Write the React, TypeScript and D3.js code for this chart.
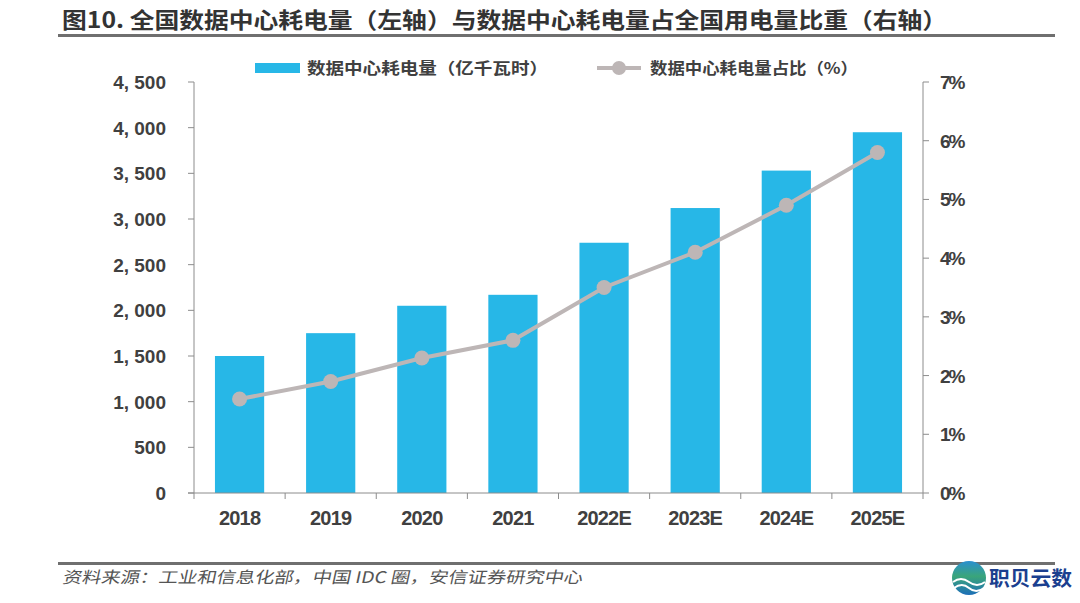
import React from "react";
import * as d3 from "d3";

const categories = ["2018", "2019", "2020", "2021", "2022E", "2023E", "2024E", "2025E"];
const consumption = [1500, 1750, 2050, 2170, 2740, 3120, 3530, 3950];
const share = [1.6, 1.9, 2.3, 2.6, 3.5, 4.1, 4.9, 5.8];
const leftTicks = [0, 500, 1000, 1500, 2000, 2500, 3000, 3500, 4000, 4500];
const rightTicks = [0, 1, 2, 3, 4, 5, 6, 7];

const W = 1080;
const H = 603;
const x0 = 194;
const x1 = 923;
const yTop = 82;
const yBot = 493;
const BAR = "#27B7E7";
const LINE = "#BDB6B6";
const AXIS = "#8c8c8c";
const TXT = "#404040";
const NUM_FONT = "'Liberation Sans', Arial, sans-serif";
const CJK = "'Noto Sans CJK SC', sans-serif";

export default function App() {
  const x = d3.scaleBand<string>().domain(categories).range([x0, x1]).paddingInner(0.46).paddingOuter(0.23);
  const band = d3.scaleBand<string>().domain(categories).range([x0, x1]);
  const yL = d3.scaleLinear().domain([0, 4500]).range([yBot, yTop]);
  const yR = d3.scaleLinear().domain([0, 7]).range([yBot, yTop]);
  const line = d3
    .line<number>()
    .x((_, i) => (band(categories[i]) as number) + band.bandwidth() / 2)
    .y((d) => yR(d));
  const fmt = d3.format(",");

  return (
    <svg width={W} height={H} style={{ display: "block", position: "absolute", left: 0, top: 0, background: "#fff" }}>
      <rect width={W} height={H} fill="#fff" />
      {/* Title */}
      <text x={62} y={28} fontFamily={CJK} fontWeight={700} fontSize={22} fill="#333" textLength={885} lengthAdjust="spacingAndGlyphs">
        图10. 全国数据中心耗电量（左轴）与数据中心耗电量占全国用电量比重（右轴）
      </text>
      <line x1={58} x2={1055} y1={35.5} y2={35.5} stroke="#6f6f6f" strokeWidth={3} />

      {/* Legend */}
      <rect x={255} y={63} width={45} height={10} fill={BAR} />
      <text x={307} y={74} fontFamily={CJK} fontWeight={700} fontSize={16} fill={TXT} textLength={241} lengthAdjust="spacingAndGlyphs">
        数据中心耗电量（亿千瓦时）
      </text>
      <line x1={597} x2={641} y1={68} y2={68} stroke={LINE} strokeWidth={4} />
      <circle cx={619} cy={68} r={7} fill={LINE} />
      <text x={650} y={74} fontFamily={CJK} fontWeight={700} fontSize={16} fill={TXT} textLength={208} lengthAdjust="spacingAndGlyphs">
        数据中心耗电量占比（%）
      </text>

      {/* Bars */}
      {consumption.map((v, i) => (
        <rect
          key={categories[i]}
          x={x(categories[i]) as number}
          y={yL(v)}
          width={x.bandwidth()}
          height={yBot - yL(v)}
          fill={BAR}
        />
      ))}

      {/* Left axis */}
      <line x1={x0} x2={x0} y1={yTop} y2={yBot} stroke={AXIS} strokeWidth={1} />
      {leftTicks.map((t) => (
        <g key={t}>
          <line x1={x0 - 6} x2={x0} y1={yL(t)} y2={yL(t)} stroke={AXIS} />
          <text x={166} y={yL(t) + 7} textAnchor="end" fontFamily={NUM_FONT} fontWeight={700} fontSize={19} fill={TXT}>
            {fmt(t).replace(",", ", ")}
          </text>
        </g>
      ))}

      {/* Right axis */}
      <line x1={x1} x2={x1} y1={yTop} y2={yBot} stroke={AXIS} strokeWidth={1} />
      {rightTicks.map((t) => (
        <g key={t}>
          <line x1={x1} x2={x1 + 6} y1={yR(t)} y2={yR(t)} stroke={AXIS} />
          <text x={940} y={yR(t) + 7} textAnchor="start" fontFamily={NUM_FONT} fontWeight={700} fontSize={19} fill={TXT} letterSpacing={-2}>
            {t + "%"}
          </text>
        </g>
      ))}

      {/* X axis */}
      <line x1={x0 - 6} x2={x1} y1={yBot} y2={yBot} stroke={AXIS} />
      {categories.map((c, i) => (
        <g key={c}>
          <line x1={band(c) as number} x2={band(c) as number} y1={yBot} y2={yBot + 6} stroke={AXIS} />
          {i === categories.length - 1 && <line x1={x1} x2={x1} y1={yBot} y2={yBot + 6} stroke={AXIS} />}
          <text
            x={(band(c) as number) + band.bandwidth() / 2}
            y={525}
            textAnchor="middle"
            fontFamily={NUM_FONT}
            fontWeight={700}
            fontSize={20}
            fill={TXT}
            letterSpacing={-0.8}
          >
            {c}
          </text>
        </g>
      ))}

      {/* Line series */}
      <path d={line(share) || ""} fill="none" stroke={LINE} strokeWidth={4} />
      {share.map((v, i) => (
        <circle
          key={categories[i]}
          cx={(band(categories[i]) as number) + band.bandwidth() / 2}
          cy={yR(v)}
          r={7.5}
          fill={LINE}
        />
      ))}

      {/* Footer */}
      <line x1={58} x2={1055} y1={563.5} y2={563.5} stroke="#6f6f6f" strokeWidth={3} />
      <text x={62} y={583} fontFamily={CJK} fontSize={16} fill="#555" textLength={520} lengthAdjust="spacingAndGlyphs" transform="translate(124,0) skewX(-12)">
        资料来源：工业和信息化部，中国 IDC 圈，安信证券研究中心
      </text>

      {/* Logo */}
      <defs>
        <linearGradient id="lg" x1="0" y1="0" x2="0" y2="1">
          <stop offset="0" stopColor="#2a8fd0" />
          <stop offset="0.45" stopColor="#3aa57a" />
          <stop offset="1" stopColor="#1d6fb8" />
        </linearGradient>
      </defs>
      <circle cx={969} cy={578} r={17} fill="url(#lg)" />
      <path d="M953,582 q8,-6 16,0 t16,0" stroke="#fff" strokeWidth={2} fill="none" />
      <path d="M954,588 q8,-6 15,0 t15,0" stroke="#fff" strokeWidth={2} fill="none" />
      <text x={989} y={586} fontFamily={CJK} fontWeight={700} fontSize={20} fill="#1b3f8f" textLength={83} lengthAdjust="spacingAndGlyphs">
        职贝云数
      </text>
    </svg>
  );
}
